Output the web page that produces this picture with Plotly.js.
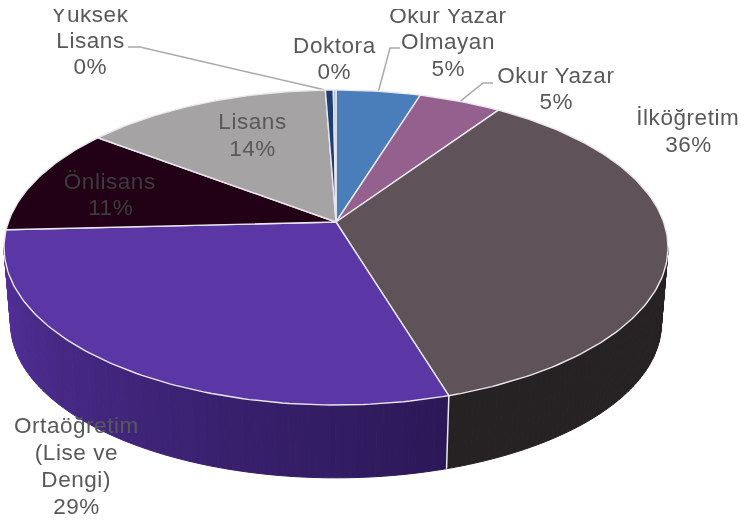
<!DOCTYPE html>
<html>
<head>
<meta charset="utf-8">
<script src="https://cdn.plot.ly/plotly-3.0.1.min.js"></script>
<style>
html,body{margin:0;padding:0;background:#fff}
#chart{width:741px;height:521px;clip-path:inset(9px 0 0 0);filter:blur(0.5px)}
#chart .annotation text{letter-spacing:0.55px}
</style>
</head>
<body>
<div id="chart"></div>
<script>
// Data, clockwise from 12 o'clock
const categories = ["Okur Yazar Olmayan","Okur Yazar","İlköğretim","Ortaöğretim (Lise ve Dengi)","Önlisans","Lisans","Yüksek Lisans","Doktora"];
const values = [4.8, 4.7, 35.8, 28.9, 11.1, 14.1, 0.45, 0.15];
const labelLines = [["Okur Yazar","Olmayan"],["Okur Yazar"],["İlköğretim"],["Ortaöğretim","(Lise ve","Dengi)"],["Önlisans"],["Lisans"],["Yüksek","Lisans"],["Doktora"]];
const colors = ["#4a7ebb","#94618e","#5f5359","#5b36a5","#220015","#a5a3a3","#1f3f70","#a9bdd9"];
const wallLeft = ["#2f4f78","#5c3c58","#262223","#2b1857","#150010","#67666a","#13274a","#13274a"];
const wallRight = ["#2f4f78","#5c3c58","#262223","#53309a","#150010","#67666a","#13274a","#13274a"];

// Layout constants (pixels on the hidden axes)
const cx = 336, apexY = 222, topY = 90, botY = 405, rimWidth = 332;
const depth = 75, bottomScale = 0.98;
const labelPos = [[448,15],[556,75],[688,117],[76,425],[110,181],[252,121],[90,14],[334,45]];
const linePitch = [26.5,26,27,27.3,26,27,26,26];
const textColor = "#595959";
const labelColors = [textColor,textColor,textColor,textColor,"#3c3c3c",textColor,textColor,textColor];
const edge = "#e9e6ee";
const leaderColor = "#a9a9a9";

// Perspective mapping of a tilted circle to the screen
const c = (2*apexY - topY - botY) / (botY - topY) * -1;
const p = topY*(1+c) - apexY;
const R = rimWidth*Math.sqrt(1-c*c);
const ellY = (apexY - p*c)/(1-c*c);
function rim(deg){
  const t = deg*Math.PI/180, Y = Math.cos(t), w = 1+c*Y;
  return [cx + R*Math.sin(t)/w, (apexY + p*Y)/w];
}
function lowerRim(deg){
  const q = rim(deg);
  return [cx + (q[0]-cx)*bottomScale, ellY + depth + (q[1]-ellY)*bottomScale + 1];
}
function mix(a,b,f){
  const pa=[1,3,5].map(i=>parseInt(a.substr(i,2),16)), pb=[1,3,5].map(i=>parseInt(b.substr(i,2),16));
  return "rgb("+pa.map((v,i)=>Math.round(v+(pb[i]-v)*f)).join(",")+")";
}

const total = values.reduce((a,b)=>a+b,0);
let cum = 0;
const spans = values.map(v=>{const s=cum/total*360; cum+=v; return [s,cum/total*360];});

const tangentR = Math.acos(-c)*180/Math.PI, tangentL = 360-tangentR;
const traces = [];
const base = {type:"scatter",mode:"lines",fill:"toself",hoverinfo:"skip",showlegend:false};

// Side wall: visible part only, from the right tangent to the left tangent
spans.forEach((s,i)=>{
  const a = Math.max(s[0],tangentR), b = Math.min(s[1],tangentL);
  if(b<=a) return;
  const n = Math.max(1,Math.ceil(b-a));
  for(let k=0;k<n;k++){
    const d0=a+(b-a)*k/n, d1=a+(b-a)*(k+1)/n;
    const col = mix(wallLeft[i],wallRight[i],(k+0.5)/n);
    const A=rim(d0),B=rim(d1),C=lowerRim(d1),D=lowerRim(d0);
    traces.push(Object.assign({},base,{x:[A[0],B[0],C[0],D[0],A[0]],y:[A[1],B[1],C[1],D[1],A[1]],fillcolor:col,line:{color:col,width:1}}));
  }
});
// Wall seam between visible slices
spans.forEach(s=>{
  if(s[0]>tangentR && s[0]<tangentL){
    const A=rim(s[0]),D=lowerRim(s[0]);
    traces.push({type:"scatter",mode:"lines",x:[A[0],D[0]],y:[A[1],D[1]],line:{color:edge,width:1.5},hoverinfo:"skip",showlegend:false});
  }
});
// Top face slices
spans.forEach((s,i)=>{
  const xs=[cx], ys=[apexY];
  const n=Math.max(2,Math.ceil(s[1]-s[0]));
  for(let k=0;k<=n;k++){const q=rim(s[0]+(s[1]-s[0])*k/n); xs.push(q[0]); ys.push(q[1]);}
  xs.push(cx); ys.push(apexY);
  traces.push(Object.assign({},base,{name:categories[i],x:xs,y:ys,fillcolor:colors[i],line:{color:edge,width:1.4}}));
});

// Labels: category lines and rounded percent
const annotations = [];
categories.forEach((cat,i)=>{
  const lines = labelLines[i].concat([Math.round(values[i]/total*100)+"%"]);
  let y = labelPos[i][1];
  lines.forEach(t=>{
    annotations.push({xref:"x",yref:"y",x:labelPos[i][0],y:y,text:t,showarrow:false,xanchor:"center",yanchor:"middle",
      font:{family:"Liberation Sans, Arial, sans-serif",size:22.5,color:labelColors[i]}});
    y += linePitch[i];
  });
});

// Leader lines
const idxY = categories.indexOf("Yüksek Lisans"), idxO = categories.indexOf("Okur Yazar Olmayan"), idxK = categories.indexOf("Okur Yazar");
function mid(i){return rim((spans[i][0]+spans[i][1])/2);}
const lead1 = rim(spans[idxY][0]), lead2 = mid(idxO), lead3 = mid(idxK);
const leaders = [
  [[128,47],[140,47],lead1],
  [[400,48],[390,48],lead2],
  [[493,83],[483,83],lead3]
];
const shapes = leaders.map(l=>({type:"path",xref:"x",yref:"y",layer:"below",
  path:"M"+l.map(q=>q[0]+","+q[1]).join(" L"),line:{color:leaderColor,width:1.5}}));

Plotly.newPlot("chart",traces,{
  width:741,height:521,margin:{l:0,r:0,t:0,b:0},
  paper_bgcolor:"#fff",plot_bgcolor:"#fff",showlegend:false,
  xaxis:{range:[0,741],visible:false,fixedrange:true},
  yaxis:{range:[521,0],visible:false,fixedrange:true},
  annotations:annotations,shapes:shapes
},{displayModeBar:false,staticPlot:true});
</script>
</body>
</html>
